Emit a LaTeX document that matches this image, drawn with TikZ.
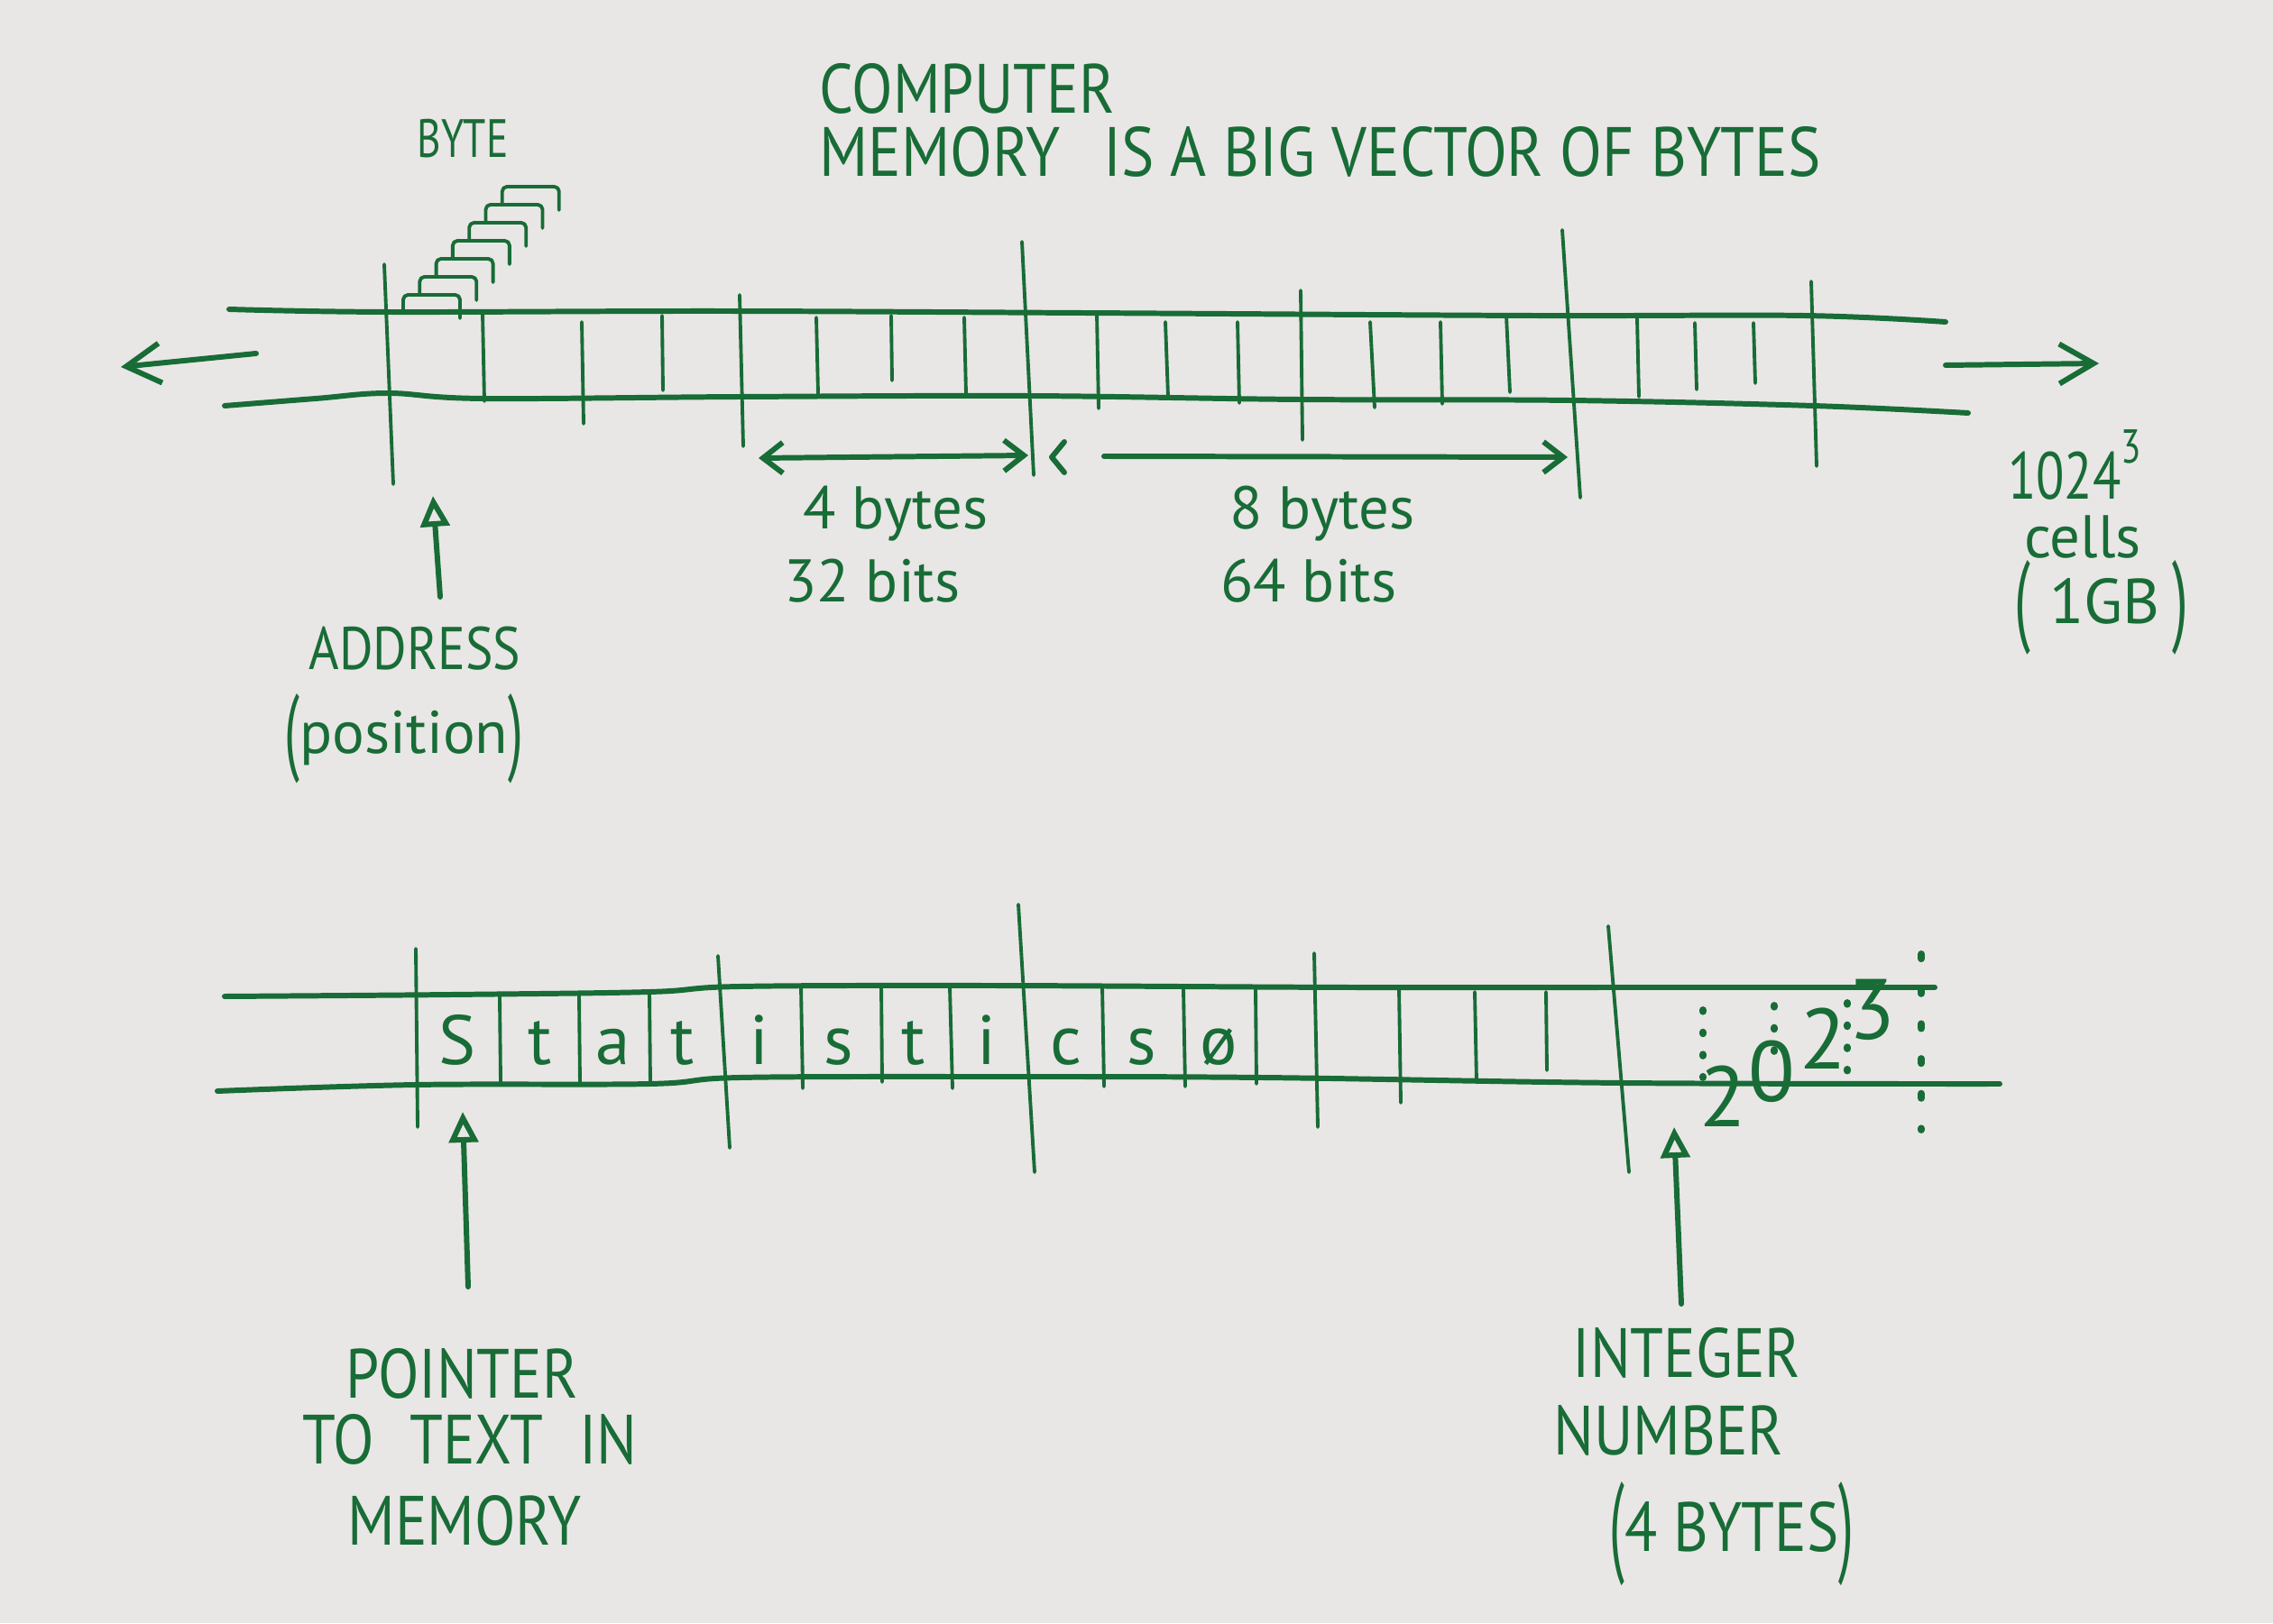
\documentclass[tikz,border=0pt]{standalone}
\usepackage{fontspec}
\setmainfont{PT Sans}
\usetikzlibrary{arrows.meta}
\definecolor{ink}{RGB}{24,108,54}
\definecolor{paper}{RGB}{233,230,230}
\newcommand{\tallpar}[1]{\raisebox{-.15em}{\scalebox{.9}[1.6]{#1}}}

\begin{document}
\begin{tikzpicture}[
    pen/.style={draw=ink, line width=1.7pt, line cap=round, line join=round},
    cell/.style={draw=ink, line width=1.1pt, line cap=round, line join=round},
    dots/.style={draw=ink, line width=2.2pt, line cap=round, dash pattern=on .5pt off 6.5pt},
    hand/.style={text=ink, inner sep=0pt, anchor=base},
    caps/.style={hand, font=\fontsize{22}{24}\selectfont, xscale=.86},
    note/.style={hand, font=\fontsize{19}{22}\selectfont},
    chars/.style={hand, font=\fontsize{22}{24}\selectfont},
    dim/.style={pen, {Straight Barb[length=2.2mm,width=3.4mm]}-{Straight Barb[length=2.2mm,width=3.4mm]}},
    ptr/.style={pen, -{Triangle[open,length=3.4mm,width=3.2mm]}},
    away/.style={pen, -{Straight Barb[length=3.8mm,width=4.4mm]}}
  ]
  \fill[paper] (0,0) rectangle (25.2,18);
  \useasboundingbox (0,0) rectangle (25.2,18);

  % title
  \node[caps, anchor=base west] (title1) at (9.08,16.74) {COMPUTER};
  \node[caps, anchor=base west, xscale=1.03] (title2) at (9.08,16.04) {MEMORY\hspace{.7em}IS A BIG VECTOR OF BYTES};

  % upper strip
  \draw[pen] plot[smooth, tension=.6] coordinates {(2.54,14.57) (4.3,14.54) (8,14.55) (12,14.53) (17,14.50) (20,14.50) (21.57,14.43)};
  \draw[pen] plot[smooth, tension=.6] coordinates {(2.49,13.50) (3.5,13.58) (4.3,13.64) (5.35,13.58) (8.2,13.60) (11.4,13.61) (14.4,13.57) (17.4,13.56) (20.1,13.50) (21.82,13.42)};
  \foreach \xa/\ya/\xb/\yb in {4.26/15.07/4.36/12.63, 5.35/14.53/5.37/13.55, 6.45/14.43/6.47/13.30,
      7.34/14.50/7.35/13.67, 8.20/14.73/8.24/13.05, 9.05/14.48/9.07/13.63, 9.88/14.50/9.89/13.78,
      10.69/14.48/10.71/13.63, 11.33/15.32/11.46/12.73, 12.16/14.53/12.18/13.47, 12.92/14.43/12.95/13.60,
      13.72/14.43/13.74/13.53, 14.42/14.78/14.44/13.12, 15.19/14.43/15.24/13.48, 15.97/14.43/15.99/13.52,
      16.70/14.50/16.74/13.65, 17.32/15.45/17.52/12.48, 18.15/14.47/18.17/13.60, 18.79/14.42/18.81/13.68,
      19.44/14.42/19.46/13.75, 20.08/14.88/20.14/12.83}
    \draw[cell] (\xa,\ya) -- (\xb,\yb);

  % one byte, stacked
  \foreach \i in {0,...,6}
    \draw[cell, rounded corners=1.5pt] ({4.47+0.183*\i},{14.53+0.2*\i}) -- ++(0,0.2) -- ++(0.63,0) -- ++(0,-0.26);
  \node[hand, font=\fontsize{17}{20}\selectfont, xscale=.76] (byte) at (5.13,16.25) {BYTE};

  % both ends go on
  \coordinate (lfrom) at (2.84,14.08);
  \coordinate (lto) at (1.34,13.93);
  \draw[away] (lfrom) -- (lto);
  \coordinate (rfrom) at (21.57,13.95);
  \coordinate (rto) at (23.27,13.97);
  \draw[away] (rfrom) -- (rto);

  % sizes
  \coordinate (w4a) at (8.41,12.92);
  \coordinate (w4b) at (11.40,12.95);
  \draw[dim] (w4a) -- (w4b);
  \coordinate (w8a) at (11.66,12.93);
  \coordinate (w8m) at (12.24,12.94);
  \coordinate (w8b) at (17.38,12.93);
  \draw[pen] ([shift={(0.14,0.17)}]w8a) -- (w8a) -- ++(0.14,-0.17);
  \draw[pen, -{Straight Barb[length=2.2mm,width=3.4mm]}] (w8m) -- (w8b);
  \node[note] (b4) at (9.93,12.13) {4 bytes};
  \node[note] (bits32) at (9.67,11.33) {32 bits};
  \node[note] (b8) at (14.66,12.13) {8 bytes};
  \node[note] (bits64) at (14.51,11.33) {64 bits};

  % address
  \coordinate (atail) at (4.88,11.38);
  \coordinate (atip) at (4.80,12.50);
  \draw[ptr] (atail) -- (atip);
  \node[note, xscale=.86] (addr) at (4.60,10.58) {ADDRESS};
  \node[note] (pos) at (4.48,9.65) {\tallpar{(}position\tallpar{)}};

  % total size
  \node[note, font=\fontsize{21}{22}\selectfont, xscale=.78] (gbnum) at (23.0,12.46) {1024\raisebox{.55em}{\fontsize{15}{15}\selectfont 3}};
  \node[note] (cells) at (23.09,11.81) {cells};
  \node[note, font=\fontsize{20}{22}\selectfont] (gb) at (23.30,11.09) {\tallpar{(}\hspace{.3em}1GB\hspace{.2em}\tallpar{)}};

  % lower strip
  \draw[pen] plot[smooth, tension=.6] coordinates {(2.49,6.95) (5,6.97) (7.2,7.0) (8.2,7.06) (11,7.07) (15,7.05) (18,7.05) (21.45,7.05)};
  \draw[pen] plot[smooth, tension=.6] coordinates {(2.41,5.90) (4.6,5.97) (7.2,5.98) (8.2,6.05) (11,6.06) (14,6.05) (18,5.99) (22.17,5.98)};
  \foreach \xa/\ya/\xb/\yb in {4.61/7.48/4.63/5.50, 5.54/6.95/5.55/6.00, 6.42/6.97/6.43/5.98, 7.20/7.00/7.21/5.97,
      7.96/7.40/8.09/5.27, 8.88/7.07/8.90/5.93, 9.77/7.08/9.78/6.00, 10.53/7.05/10.56/5.93,
      11.29/7.97/11.47/5.00, 12.22/7.07/12.24/5.95, 13.12/7.03/13.14/5.95, 13.92/7.03/13.93/5.98,
      14.57/7.43/14.61/5.50, 15.51/7.05/15.53/5.77, 16.35/7.00/16.37/6.00, 17.14/7.00/17.15/6.13,
      17.83/7.73/18.06/5.00}
    \draw[cell] (\xa,\ya) -- (\xb,\yb);
  \foreach \x/\c [count=\k] in {5.07/S, 5.99/t, 6.80/a, 7.57/t, 8.42/i, 9.30/s, 10.13/t, 10.94/i, 11.82/c, 12.66/s, 13.51/ø}
    \node[chars] (ch\k) at (\x,6.20) {\c};

  % the integer, byte by byte
  \draw[dots] (18.88,6.80) -- (18.88,6.05);
  \draw[dots] (19.67,6.85) -- (19.67,6.22);
  \draw[dots] (20.48,6.88) -- (20.48,6.00);
  \draw[dots, dash pattern=on 1.5pt off 9.5pt] (21.30,7.42) -- (21.30,5.47);
  \foreach \x/\y/\d [count=\k] in {19.10/5.84/2, 19.64/6.12/0, 20.21/6.48/2, 20.75/6.80/3}
    \node[text=ink, inner sep=0pt, font=\fontsize{27}{28}\selectfont] (yr\k) at (\x,\y) {\d};

  % pointers
  \coordinate (ptail) at (5.19,3.73);
  \coordinate (ptip) at (5.13,5.67);
  \draw[ptr] (ptail) -- (ptip);
  \node[caps] (pt1) at (5.12,2.50) {POINTER};
  \node[caps] (pt2) at (5.21,1.77) {TO\hspace{.6em}TEXT\hspace{.6em}IN};
  \node[caps] (pt3) at (5.15,0.87) {MEMORY};

  \coordinate (itail) at (18.64,3.54);
  \coordinate (itip) at (18.56,5.50);
  \draw[ptr] (itail) -- (itip);
  \node[caps] (int1) at (18.70,2.73) {INTEGER};
  \node[caps] (int2) at (18.50,1.87) {NUMBER};
  \node[caps] (int3) at (19.20,0.80) {\tallpar{(}4 BYTES\tallpar{)}};
\end{tikzpicture}
\end{document}
